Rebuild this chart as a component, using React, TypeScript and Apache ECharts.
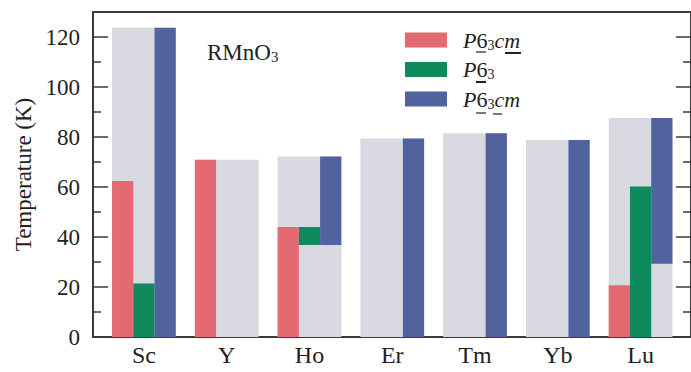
import React, { useEffect, useRef } from "react";
import * as echarts from "echarts";

const categories = ["Sc", "Y", "Ho", "Er", "Tm", "Yb", "Lu"];
const yTickValues = [0, 20, 40, 60, 80, 100, 120];
const yMinorTickValues = [10, 30, 50, 70, 90, 110];

// grey background range (total extent per compound)
const rangeTop = [123.7, 70.9, 72.2, 79.4, 81.5, 78.8, 87.6];
// P6_3 c m-underline (red)
const redLow = [0, 0, 0, null, null, null, 0];
const redHigh = [62.4, 70.9, 44.0, null, null, null, 20.7];
// P6_3 (green)
const greenLow = [0, null, 36.8, null, null, null, 0];
const greenHigh = [21.4, null, 44.0, null, null, null, 60.2];
// P6_3 c-underline m (blue)
const blueLow = [0, null, 36.8, 0, 0, 0, 29.3];
const blueHigh = [123.7, null, 72.2, 79.4, 81.5, 78.8, 87.6];

const seriesNames = ["P63cm (red)", "P63 (green)", "P63cm (blue)"];

const FONT = "Liberation Serif";
const TEXT = "#231f20";
const AXIS = "#3a3a3a";
const GREY = "#d9d9e1";
const RED = "#e46a72";
const GREEN = "#0e8a5c";
const BLUE = "#50639e";

const X_MIN = 0.385;
const X_MAX = 7.609;
const HALF = 0.385;
const THIRD = (2 * HALF) / 3;

function toData(low: (number | null)[], high: (number | null)[]) {
  const out: number[][] = [];
  categories.forEach((_, i) => {
    const lo = low[i];
    const hi = high[i];
    if (lo !== null && hi !== null) out.push([i + 1, lo, hi]);
  });
  return out;
}

function makeRender(slotStart: number, slotEnd: number, color: string) {
  return (params: any, api: any) => {
    const x = api.value(0);
    const lo = api.value(1);
    const hi = api.value(2);
    const p0 = api.coord([x + slotStart, lo]);
    const p1 = api.coord([x + slotEnd, hi]);
    return {
      type: "rect",
      shape: { x: p0[0], y: p1[1], width: p1[0] - p0[0], height: p0[1] - p1[1] },
      style: { fill: color },
    };
  };
}

const legendRich: Record<string, string> = {
  [seriesNames[0]]: "{p|P}{n|6}{s|3}{i|cm}",
  [seriesNames[1]]: "{p|P}{n|6}{s|3}",
  [seriesNames[2]]: "{p|P}{n|6}{s|3}{i|cm}",
};

export default function App() {
  const ref = useRef<HTMLDivElement>(null);
  useEffect(() => {
    if (!ref.current) return;
    const chart = echarts.init(ref.current, undefined, { renderer: "svg" });
    const tickLine = { color: AXIS, width: 1.5 };
    const ul = (x1: number, x2: number, y: number, w: number) => ({
      type: "line",
      shape: { x1, y1: y, x2, y2: y },
      style: { stroke: TEXT, lineWidth: w },
      z: 100,
    });
    const option: any = {
      animation: false,
      backgroundColor: "#ffffff",
      textStyle: { fontFamily: FONT },
      title: {
        text: "{a|RMnO}{s|3}",
        left: 207,
        top: 40,
        padding: 0,
        textStyle: {
          fontWeight: "normal",
          rich: {
            a: { fontFamily: FONT, fontSize: 23, fontWeight: "normal", color: TEXT, lineHeight: 24 },
            s: { fontFamily: FONT, fontSize: 15, fontWeight: "normal", color: TEXT, lineHeight: 14, verticalAlign: "bottom" },
          },
        },
      },
      legend: {
        orient: "vertical",
        left: 405,
        top: 29,
        padding: 0,
        itemWidth: 42,
        itemHeight: 15,
        itemGap: 6.5,
        icon: "rect",
        data: seriesNames,
        formatter: (name: string) => legendRich[name] || name,
        textStyle: {
          rich: {
            p: { fontFamily: FONT, fontStyle: "italic", fontSize: 22, color: TEXT, lineHeight: 24, padding: [0, 0, 0, 11] },
            n: { fontFamily: FONT, fontSize: 22, color: TEXT, lineHeight: 24 },
            i: { fontFamily: FONT, fontStyle: "italic", fontSize: 22, color: TEXT, lineHeight: 24 },
            s: { fontFamily: FONT, fontSize: 14, color: TEXT, lineHeight: 14, verticalAlign: "bottom" },
          },
        },
      },
      graphic: [
        ul(476, 486, 52, 1.2),
        ul(505, 521, 53, 2),
        ul(476, 486, 82, 2),
        ul(476, 486, 113, 1.2),
        ul(493, 502, 114, 1.2),
      ],
      grid: { left: 93, right: -7, top: 12, bottom: 35 },
      xAxis: [
        {
          type: "value",
          min: X_MIN,
          max: X_MAX,
          position: "bottom",
          axisLine: { show: true, onZero: false, lineStyle: { color: AXIS, width: 2 } },
          axisTick: { show: false },
          splitLine: { show: false },
          axisLabel: {
            customValues: categories.map((_, i) => i + 1),
            formatter: (v: number) => "{c|" + (categories[Math.round(v) - 1] || "") + "}",
            fontFamily: FONT,
            fontSize: 24,
            color: TEXT,
            margin: 6,
            rich: { c: { fontFamily: FONT, fontSize: 24, color: TEXT } },
          },
        },
        {
          type: "value",
          min: X_MIN,
          max: X_MAX,
          position: "top",
          axisLine: { show: true, onZero: false, lineStyle: { color: AXIS, width: 2 } },
          axisTick: { show: false },
          axisLabel: { show: false },
          splitLine: { show: false },
        },
      ],
      yAxis: [
        {
          type: "value",
          min: 0,
          max: 130,
          position: "left",
          name: "Temperature (K)",
          nameLocation: "middle",
          nameGap: 56,
          nameTextStyle: { fontFamily: FONT, fontSize: 23, color: TEXT },
          axisLine: { show: true, onZero: false, lineStyle: { color: AXIS, width: 2 } },
          axisTick: { show: true, inside: true, length: 15, customValues: yTickValues, lineStyle: tickLine },
          axisLabel: {
            customValues: yTickValues,
            formatter: (v: number) => "{t|" + v + "}",
            fontFamily: FONT,
            fontSize: 23,
            color: TEXT,
            margin: 13,
            rich: { t: { fontFamily: FONT, fontSize: 23, color: TEXT } },
          },
          splitLine: { show: false },
        },
        {
          type: "value",
          min: 0,
          max: 130,
          position: "right",
          axisLine: { show: true, onZero: false, lineStyle: { color: AXIS, width: 2 } },
          axisTick: { show: true, inside: true, length: 15, customValues: yTickValues, lineStyle: tickLine },
          axisLabel: { show: false },
          splitLine: { show: false },
        },
        {
          type: "value",
          min: 0,
          max: 130,
          position: "left",
          axisLine: { show: false },
          axisTick: { show: true, inside: true, length: 8, customValues: yMinorTickValues, lineStyle: tickLine },
          axisLabel: { show: false },
          splitLine: { show: false },
        },
        {
          type: "value",
          min: 0,
          max: 130,
          position: "right",
          axisLine: { show: false },
          axisTick: { show: true, inside: true, length: 8, customValues: yMinorTickValues, lineStyle: tickLine },
          axisLabel: { show: false },
          splitLine: { show: false },
        },
      ],
      series: [
        {
          name: "range",
          type: "custom",
          xAxisIndex: 0,
          yAxisIndex: 0,
          itemStyle: { color: GREY },
          renderItem: makeRender(-HALF, HALF, GREY),
          data: toData(categories.map(() => 0), rangeTop),
          z: 1,
        },
        {
          name: seriesNames[0],
          type: "custom",
          xAxisIndex: 0,
          yAxisIndex: 0,
          itemStyle: { color: RED },
          renderItem: makeRender(-HALF, -HALF + THIRD, RED),
          data: toData(redLow, redHigh),
          z: 2,
        },
        {
          name: seriesNames[1],
          type: "custom",
          xAxisIndex: 0,
          yAxisIndex: 0,
          itemStyle: { color: GREEN },
          renderItem: makeRender(-HALF + THIRD, -HALF + 2 * THIRD, GREEN),
          data: toData(greenLow, greenHigh),
          z: 2,
        },
        {
          name: seriesNames[2],
          type: "custom",
          xAxisIndex: 0,
          yAxisIndex: 0,
          itemStyle: { color: BLUE },
          renderItem: makeRender(-HALF + 2 * THIRD, HALF, BLUE),
          data: toData(blueLow, blueHigh),
          z: 2,
        },
      ],
    };
    chart.setOption(option);
    return () => chart.dispose();
  }, []);
  return (
    <div
      ref={ref}
      style={{ position: "fixed", left: 0, top: 0, width: 691, height: 372, background: "#fff" }}
    />
  );
}
